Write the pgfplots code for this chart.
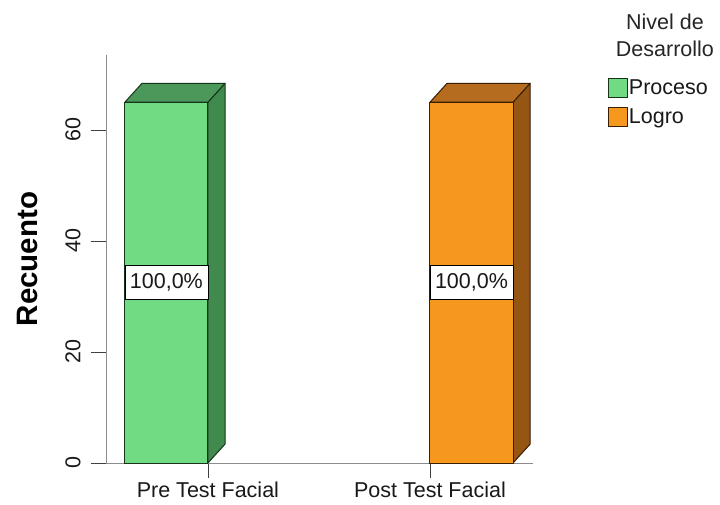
\documentclass[border=0pt]{standalone}
\usepackage{pgfplots}
\pgfplotsset{compat=1.18}
\usepackage{fontspec}
\setmainfont{Liberation Sans}
\definecolor{gfront}{RGB}{112,219,131}
\definecolor{gside}{RGB}{64,138,78}
\definecolor{gtop}{RGB}{76,152,90}
\definecolor{gedge}{RGB}{22,52,28}
\definecolor{ofront}{RGB}{247,152,30}
\definecolor{oside}{RGB}{148,86,18}
\definecolor{otop}{RGB}{182,108,30}
\definecolor{oedge}{RGB}{55,30,5}
\begin{document}
\begin{tikzpicture}
\useasboundingbox (0,0) rectangle (720pt,504pt);
\begin{axis}[
  at={(106pt,41pt)}, anchor=south west,
  scale only axis, width=427pt, height=408pt,
  xmin=-0.459, xmax=1.464, ymin=0, ymax=73.5,
  clip=false,
  axis x line*=bottom, axis y line*=left,
  axis line style={-, draw=black!45, line width=0.8pt},
  tick align=outside, major tick length=15pt,
  tick style={draw=black!75, line width=0.8pt},
  xtick={0,1}, xticklabels={Pre Test Facial, Post Test Facial},
  ytick={0,20,40,60},
  /pgf/number format/assume math mode=true,
  ticklabel style={font=\fontsize{21.5}{25}\selectfont, text=black!90},
  yticklabel style={rotate=90, anchor=south},
  yticklabel shift={7pt},
  ylabel={Recuento},
  ylabel style={at={(axis description cs:-0.183,0.5)}, anchor=center, font=\fontsize{29.5}{33}\selectfont\bfseries},
  legend style={at={(rel axis cs:1.175,0.944)}, anchor=north west, draw=none, fill=none,
    inner sep=0pt, font=\fontsize{21.5}{25}\selectfont, row sep=9pt,
    nodes={inner sep=1pt, text=black!90}},
  legend cell align=left,
  /tikz/every even column/.append style={column sep=7pt},
]
% Pre Test: side and top faces
\addplot[forget plot, fill=gside, draw=gedge, line width=1pt, line join=round] coordinates {(0,0) (0.077,3.4) (0.077,68.4) (0,65) (0,0)};
\addplot[forget plot, fill=gtop, draw=gedge, line width=1pt, line join=round] coordinates {(-0.374,65) (-0.297,68.4) (0.077,68.4) (0,65) (-0.374,65)};
% Post Test: side and top faces
\addplot[forget plot, fill=oside, draw=oedge, line width=1pt, line join=round] coordinates {(1.374,0) (1.451,3.4) (1.451,68.4) (1.374,65) (1.374,0)};
\addplot[forget plot, fill=otop, draw=oedge, line width=1pt, line join=round] coordinates {(1,65) (1.077,68.4) (1.451,68.4) (1.374,65) (1,65)};
% front faces
\addplot[ybar, bar width=0.374, bar shift=0pt, fill=gfront, draw=gedge, line width=1pt,
  legend image code/.code={\draw[fill=gfront, draw=gedge, line width=1pt] (0pt,-9.5pt) rectangle (19pt,9.5pt);}]
  coordinates {(-0.187,65)};
\addlegendentry{Proceso}
\addplot[ybar, bar width=0.374, bar shift=0pt, fill=ofront, draw=oedge, line width=1pt,
  legend image code/.code={\draw[fill=ofront, draw=oedge, line width=1pt] (0pt,-9.5pt) rectangle (19pt,9.5pt);}]
  coordinates {(1.187,65)};
\addlegendentry{Logro}
% percentage labels
\addplot[forget plot, only marks, mark=none, nodes near coords={100,0\%},
  every node near coord/.append style={fill=white, draw=black, line width=0.7pt,
    minimum width=83pt, minimum height=34pt, inner sep=0pt, anchor=center,
    font=\fontsize{21.5}{25}\selectfont, text=black!90}]
  coordinates {(-0.187,32.5) (1.187,32.5)};
\node[align=center, font=\fontsize{21.5}{27}\selectfont, text=black!85] at (rel axis cs:1.309,1.049) {Nivel de\\Desarrollo};
\end{axis}
\end{tikzpicture}
\end{document}
